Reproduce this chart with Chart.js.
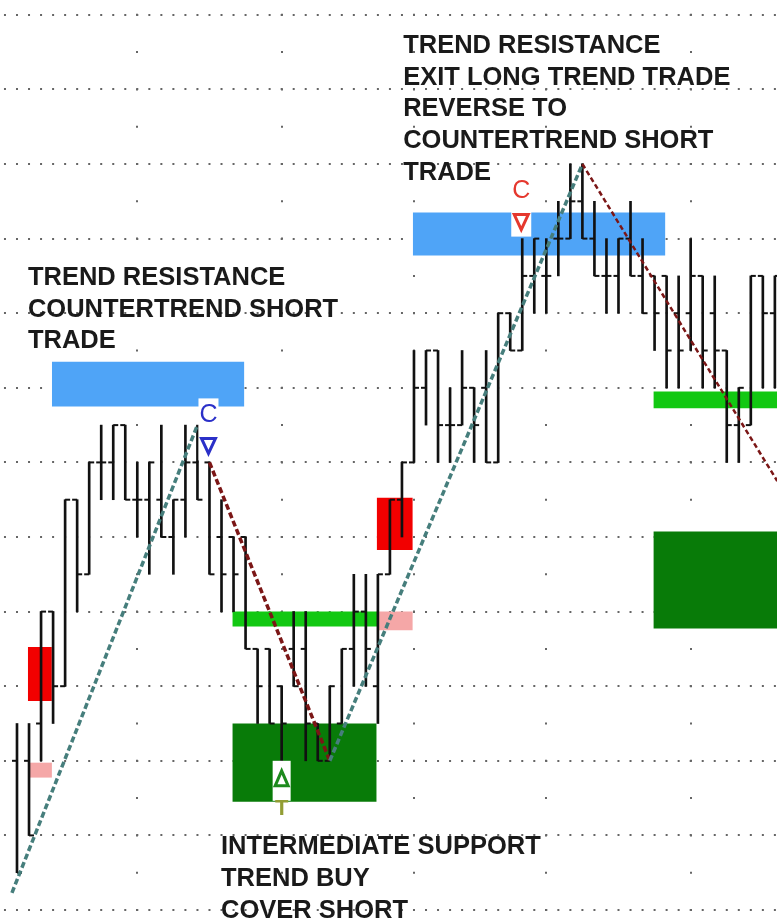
<!DOCTYPE html>
<html>
<head>
<meta charset="utf-8">
<script src="https://cdn.jsdelivr.net/npm/chart.js@4.4.1/dist/chart.umd.min.js"></script>
<style>
  html, body { margin: 0; padding: 0; background: #fff; }
  canvas { display: block; }
</style>
</head>
<body>
<canvas id="chart" width="777" height="920"></canvas>
<script>
// price is counted in half-grid steps, bars are numbered 0..63
const opens  = [4,4,5,8,6,11,9,12,12,13, 11,11,11,10,11,12,12,10,10,10, 7,7,6,7,7,5,4,5,7,8, 6,9,11,12,14,15,13,13,14,14, 12,16,15,17,17,18,18,19,18,17, 17,18,17,17,17,16,16,17,16,15, 13,13,17,16];
const highs  = [5,5,8,8,11,11,12,13,13,13, 12,12,13,11,13,13,12,11,10,10, 7,7,6,8,8,5,6,7,9,9, 9,11,12,15,15,15,14,15,14,15, 16,16,18,18,18,19,20,20,19,18, 18,19,18,17,17,17,18,17,17,15, 14,17,17,17];
const lows   = [1,2,4,5,6,8,9,11,11,11, 10,9,10,9,10,11,9,8,8,7, 5,5,4,6,4,4,4,5,6,6, 5,9,10,12,13,12,12,13,12,12, 12,15,15,16,16,17,18,18,17,16, 16,17,16,15,14,14,15,14,14,12, 12,13,14,14];
const closes = [1,2,8,6,11,9,12,12,13,11, 11,12,10,11,12,11,9,9,9,7, 6,5,5,6,5,4,6,7,8,7, 9,11,12,14,15,13,13,14,13,12, 16,15,17,18,17,18,19,18,17,17, 18,17,16,16,15,15,17,15,15,13, 14,17,16,17];

const gridLevels = [0, 2, 4, 6, 8, 10, 12, 14, 16, 18, 20, 22, 24];
const dateLines = [10, 22, 33, 44, 56];

// zones: [first bar, last bar, low, high]
const resistanceZones = [[2.9, 18.9, 13.5, 14.7], [32.9, 53.9, 17.55, 18.7]];
const supportZones = [[17.9, 29.9, 2.9, 5.0], [52.9, 64, 7.55, 10.15]];
const pivotLines = [[17.9, 30.0, 7.6, 8.0], [52.9, 64, 13.45, 13.9]];
const stopZones = [[0.9, 2.9, 5.6, 7.05], [29.9, 32.9, 9.65, 11.05]];
const entryZones = [[1.0, 2.9, 3.55, 3.95], [30.0, 32.9, 7.5, 8.0]];

// trend lines: [[bar, price], [bar, price]]
const upTrends = [[[-0.42, 0.46], [15, 13]], [[26, 4], [47, 20]]];
const downTrends = [[[16, 12], [26, 4]], [[47, 20], [63.2, 11.5]]];

const sellSignals = [16, 42];
const buySignals = [22];

const notes = [
  { bar: 32.1, price: 23.22, lines: ['TREND RESISTANCE', 'EXIT LONG TREND TRADE', 'REVERSE TO', 'COUNTERTREND SHORT', 'TRADE'] },
  { bar: 0.91, price: 17.0, lines: ['TREND RESISTANCE', 'COUNTERTREND SHORT', 'TRADE'] },
  { bar: 16.96, price: 1.74, lines: ['INTERMEDIATE SUPPORT', 'TREND BUY', 'COVER SHORT'] },
];

const sellColors = ['#2b30c8', '#e5382e'];
const datasets = [];

function addZone(z, color) {
  const [x0, x1, lo, hi] = z;
  const idx = datasets.length;
  datasets.push({ type: 'line', data: [{ x: x0, y: hi }, { x: x1, y: hi }], borderColor: 'rgba(0,0,0,0)', borderWidth: 1,
    pointRadius: 0, backgroundColor: color, fill: idx + 1, order: 10 });
  datasets.push({ type: 'line', data: [{ x: x0, y: lo }, { x: x1, y: lo }], borderColor: 'rgba(0,0,0,0)', borderWidth: 1,
    pointRadius: 0, fill: false, order: 10 });
}

resistanceZones.forEach(z => addZone(z, '#4fa4f7'));
supportZones.forEach(z => addZone(z, '#087b08'));
pivotLines.forEach(z => addZone(z, '#12c812'));
stopZones.forEach(z => addZone(z, '#f20000'));
entryZones.forEach(z => addZone(z, '#f5a7a7'));

datasets.push({
  type: 'bar',
  data: highs.map((h, i) => ({ x: i, y: [lows[i], h] })),
  backgroundColor: '#111', barThickness: 2, order: 5,
});
datasets.push({
  type: 'line', showLine: false,
  data: opens.map((o, i) => ({ x: i, y: o })),
  pointStyle: 'dash', rotation: 180, pointRadius: 5, borderColor: '#111', borderWidth: 2, order: 4,
});
datasets.push({
  type: 'line', showLine: false,
  data: closes.map((c, i) => ({ x: i, y: c })),
  pointStyle: 'dash', rotation: 0, pointRadius: 5, borderColor: '#111', borderWidth: 2, order: 4,
});

upTrends.forEach(t => datasets.push({
  type: 'line', data: t.map(p => ({ x: p[0], y: p[1] })),
  borderColor: '#467e7c', borderWidth: 3.5, borderDash: [6, 3], pointRadius: 0, fill: false, order: 3,
}));
downTrends.forEach((t, k) => datasets.push({
  type: 'line', data: t.map(p => ({ x: p[0], y: p[1] })),
  borderColor: '#7b1616', borderWidth: k === 0 ? 3.5 : 2.5, borderDash: k === 0 ? [6, 3] : [5, 3], pointRadius: 0, fill: false, order: 3,
}));

const notesPlugin = {
  id: 'notes',
  afterDatasetsDraw(chart) {
    const { ctx, scales: { x, y } } = chart;
    ctx.save();
    ctx.textAlign = 'center';
    ctx.textBaseline = 'middle';

    sellSignals.forEach((bar, k) => {
      const px = x.getPixelForValue(bar) - 1;
      const top = y.getPixelForValue(highs[bar]);
      ctx.fillStyle = '#fff';
      ctx.fillRect(px - 10, top - 64, 20, 62);
      ctx.fillStyle = sellColors[k];
      ctx.font = '25px "Liberation Sans"';
      ctx.fillText('C', px, top - 47);
      ctx.beginPath();
      ctx.moveTo(px - 7, top - 24);
      ctx.lineTo(px + 7, top - 24);
      ctx.lineTo(px, top - 9);
      ctx.closePath();
      ctx.strokeStyle = sellColors[k];
      ctx.lineWidth = 3;
      ctx.stroke();
    });

    buySignals.forEach(bar => {
      const px = x.getPixelForValue(bar);
      const bot = y.getPixelForValue(lows[bar]);
      ctx.fillStyle = '#fff';
      ctx.fillRect(px - 9, bot, 18, 40);
      ctx.beginPath();
      ctx.moveTo(px - 6.5, bot + 25);
      ctx.lineTo(px + 6.5, bot + 25);
      ctx.lineTo(px, bot + 10);
      ctx.closePath();
      ctx.strokeStyle = '#1d8a1d';
      ctx.lineWidth = 3;
      ctx.stroke();
      ctx.fillStyle = '#929d34';
      ctx.font = 'bold 22px "Liberation Sans"';
      ctx.fillText('T', px, bot + 48);
    });

    ctx.textAlign = 'left';
    ctx.fillStyle = '#1a1a1a';
    ctx.font = 'bold 25.5px "Liberation Sans"';
    notes.forEach(n => {
      const px = x.getPixelForValue(n.bar);
      const py = y.getPixelForValue(n.price) + 2;
      n.lines.forEach((line, i) => ctx.fillText(line, px, py + i * 31.7));
    });
    ctx.restore();
  }
};

new Chart(document.getElementById('chart'), {
  type: 'line',
  data: { datasets },
  options: {
    responsive: false,
    animation: false,
    events: [],
    layout: { padding: 0, autoPadding: false },
    plugins: { legend: { display: false }, tooltip: { enabled: false } },
    scales: {
      x: {
        type: 'linear', min: -1.413, max: 63.177, offset: false,
        afterBuildTicks: s => { s.ticks = dateLines.map(v => ({ value: v })); },
        ticks: { display: false },
        grid: { offset: false, color: '#666', lineWidth: 2, drawTicks: false, tickLength: 0 },
        border: { display: false, dash: [2, 35.3], dashOffset: 23.5 },
      },
      y: {
        type: 'linear', min: -0.268, max: 24.397,
        afterBuildTicks: s => { s.ticks = gridLevels.map(v => ({ value: v })); },
        ticks: { display: false },
        grid: { color: '#666', lineWidth: 2, drawTicks: false, tickLength: 0 },
        border: { display: false, dash: [2, 10.03], dashOffset: 8.06 },
      },
    },
  },
  plugins: [notesPlugin],
});
</script>
</body>
</html>
